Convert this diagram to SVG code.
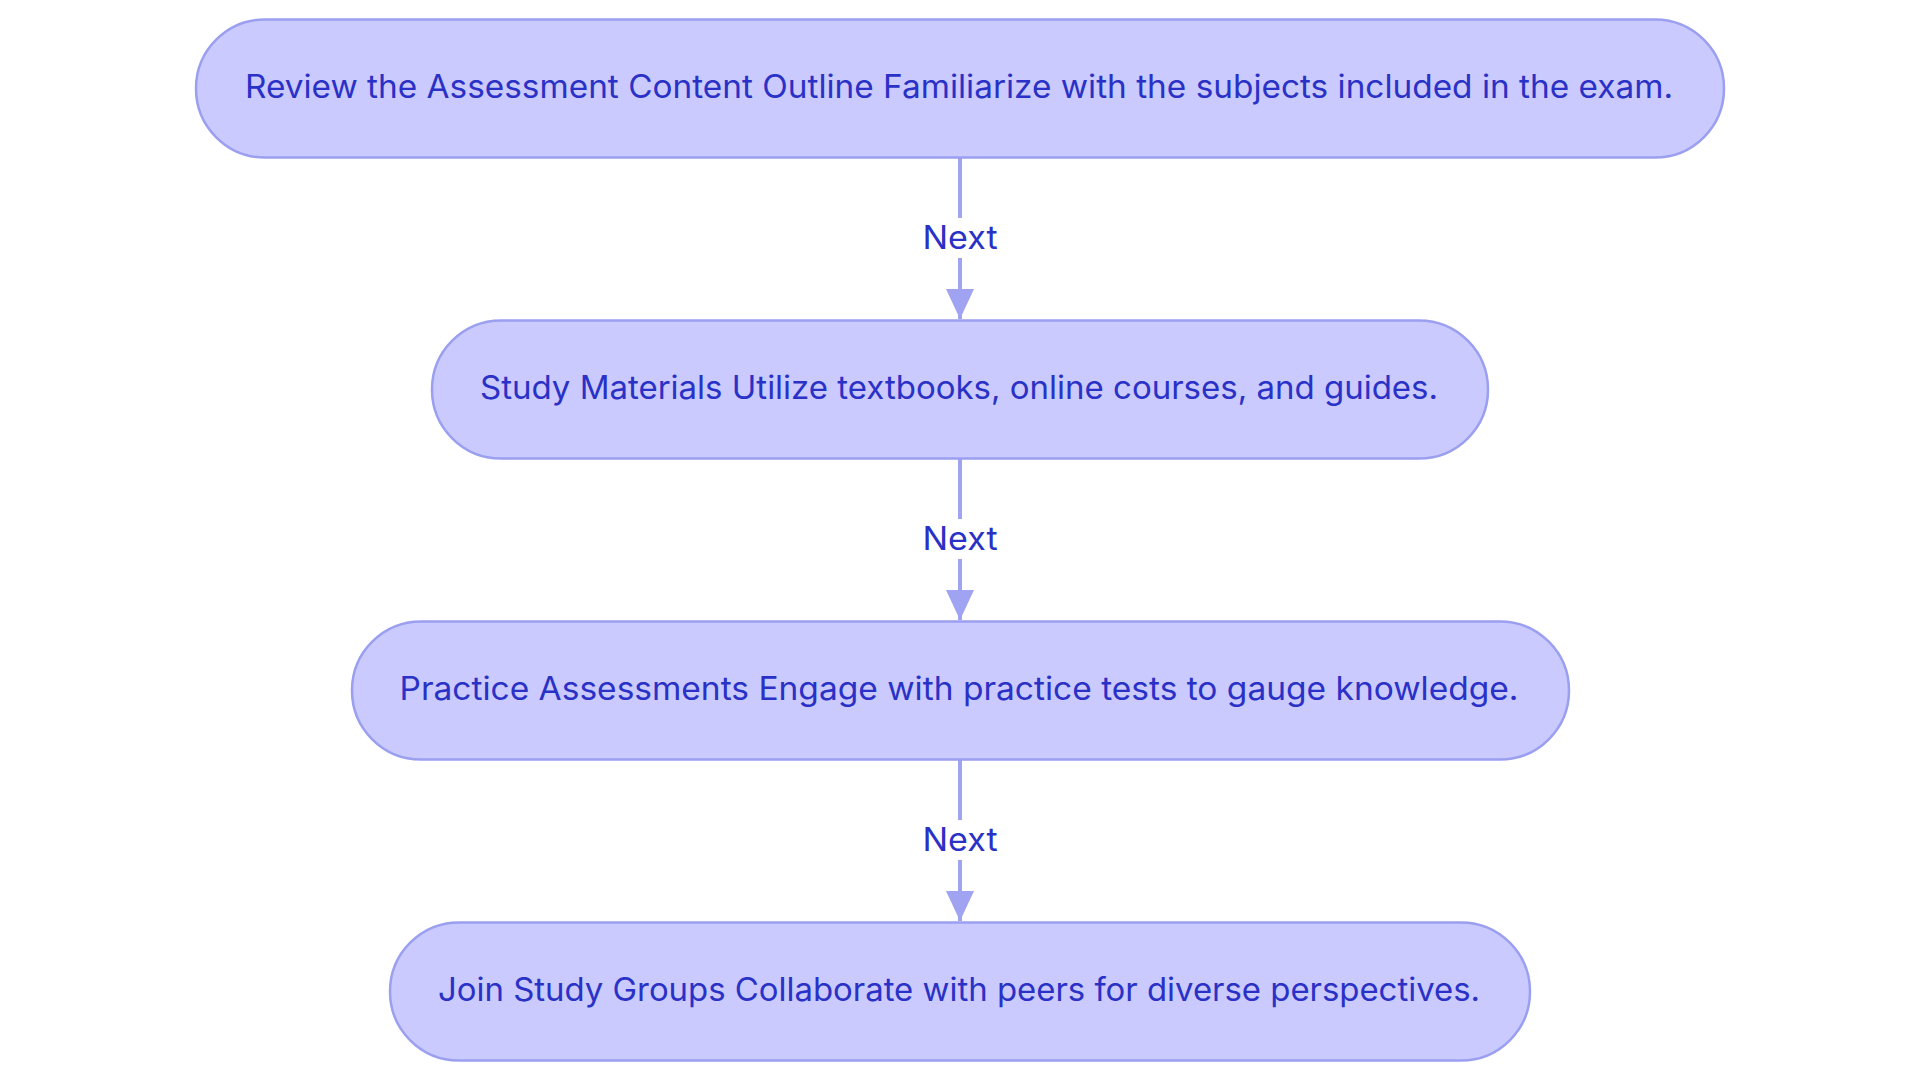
<svg xmlns="http://www.w3.org/2000/svg" width="1920" height="1083" viewBox="0 0 1920 1083">
<defs>
<style>
.node rect{fill:#CACAFE;stroke:#9A9FF0;stroke-width:2.5}
.node text{font-family:Inter,"Noto Sans","Liberation Sans",sans-serif;font-size:32px;fill:#2A31C6;text-anchor:middle}
.edge line{stroke:#A0A3F1;stroke-width:4}
.lbl-bg{fill:#ffffff}
.lbl{font-family:Inter,"Noto Sans","Liberation Sans",sans-serif;font-size:32px;fill:#2A31C6;text-anchor:middle}
</style>
<marker id="arrow" viewBox="0 0 30 28" refX="30" refY="14" markerWidth="30" markerHeight="28" markerUnits="userSpaceOnUse" orient="auto">
<path d="M0,0 L30,14 L0,28 Z" fill="#A0A3F1"/>
</marker>
</defs>
<rect width="1920" height="1083" fill="#ffffff"/>
<g id="connectors" class="edge">
<line x1="960" y1="158" x2="960" y2="319" marker-end="url(#arrow)"/>
<rect class="lbl-bg" x="920" y="218" width="80" height="40"/>
<text class="lbl" x="960" y="248.5" textLength="75" lengthAdjust="spacingAndGlyphs">Next</text>
<line x1="960" y1="459" x2="960" y2="620" marker-end="url(#arrow)"/>
<rect class="lbl-bg" x="920" y="519" width="80" height="40"/>
<text class="lbl" x="960" y="549.5" textLength="75" lengthAdjust="spacingAndGlyphs">Next</text>
<line x1="960" y1="760" x2="960" y2="921" marker-end="url(#arrow)"/>
<rect class="lbl-bg" x="920" y="820" width="80" height="40"/>
<text class="lbl" x="960" y="850.5" textLength="75" lengthAdjust="spacingAndGlyphs">Next</text>
</g>
<g id="node1" class="node">
<rect x="196" y="19.5" width="1528" height="138" rx="69" ry="69"/>
<text x="959" y="97.5" textLength="1428" lengthAdjust="spacingAndGlyphs">Review the Assessment Content Outline Familiarize with the subjects included in the exam.</text>
</g>
<g id="node2" class="node">
<rect x="432" y="320.5" width="1056" height="138" rx="69" ry="69"/>
<text x="959" y="398.5" textLength="958" lengthAdjust="spacingAndGlyphs">Study Materials Utilize textbooks, online courses, and guides.</text>
</g>
<g id="node3" class="node">
<rect x="352" y="621.5" width="1217" height="138" rx="69" ry="69"/>
<text x="959" y="699.5" textLength="1119" lengthAdjust="spacingAndGlyphs">Practice Assessments Engage with practice tests to gauge knowledge.</text>
</g>
<g id="node4" class="node">
<rect x="390" y="922.5" width="1140" height="138" rx="69" ry="69"/>
<text x="959" y="1000.5" textLength="1042" lengthAdjust="spacingAndGlyphs">Join Study Groups Collaborate with peers for diverse perspectives.</text>
</g>
</svg>
